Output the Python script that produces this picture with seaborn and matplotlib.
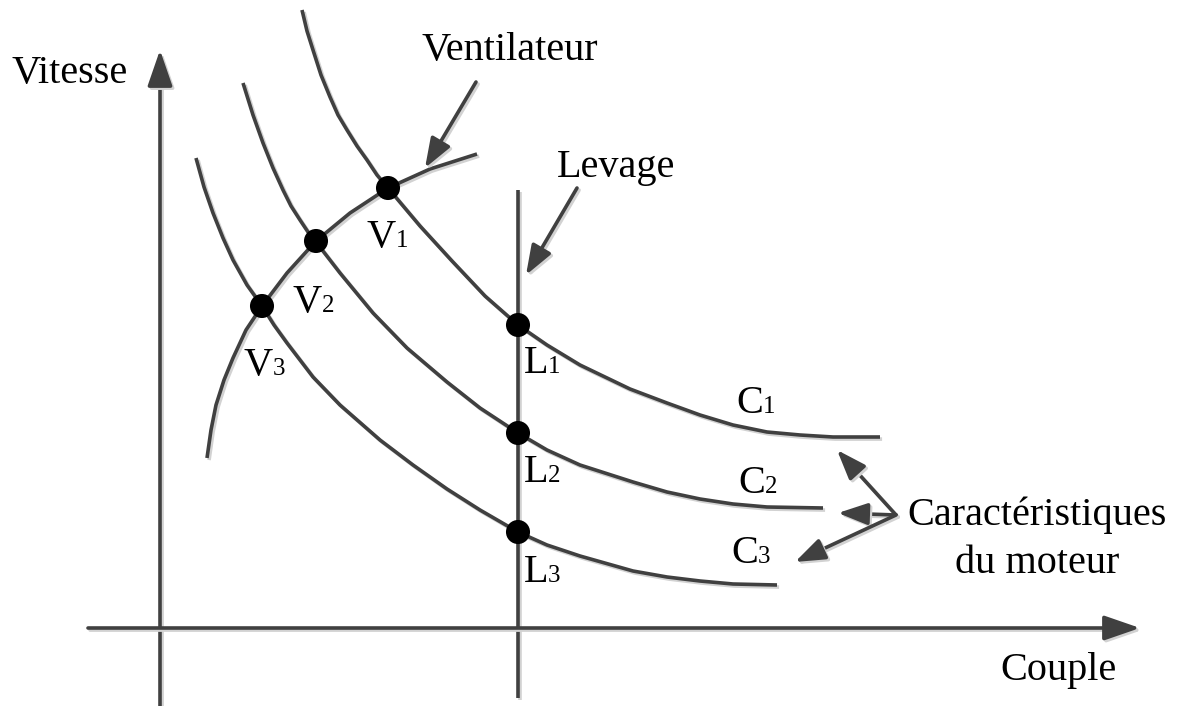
import numpy as np
import pandas as pd
import matplotlib
matplotlib.use("Agg")
import matplotlib.pyplot as plt
import matplotlib.patheffects as pe
import seaborn as sns

# motor characteristic curves (pixel-like coordinates of the schematic, y down)
c1_x = [302, 307, 313, 321, 330, 338, 347, 357, 367, 377, 388, 420, 452, 485, 518,
        547, 580, 630, 667, 700, 733, 767, 800, 833, 880]
c1_y = [10, 31, 50, 75, 97, 115, 130, 146, 160, 175, 188, 226, 261, 296, 325,
        345, 365, 389, 403, 415, 425, 432, 435, 437, 437]
c2_x = [243, 253, 263, 273, 283, 291, 300, 308, 316, 340, 373, 407, 447, 480, 518,
        547, 580, 633, 667, 700, 733, 767, 823]
c2_y = [83, 115, 143, 168, 190, 206, 220, 232, 242, 273, 313, 348, 382, 408, 433,
        450, 465, 482, 492, 499, 504, 507, 508]
c3_x = [196, 204, 213, 223, 233, 247, 262, 274, 287, 313, 340, 380, 413, 447, 480, 518,
        547, 580, 633, 667, 700, 733, 777]
c3_y = [158, 187, 213, 238, 260, 285, 306, 325, 343, 377, 405, 440, 465, 489, 510, 532,
        545, 556, 571, 577, 581, 584, 585]

# fan load curve
fan_x = [207, 211, 216, 224, 233, 246, 262, 287, 316, 350, 388, 430, 477]
fan_y = [458, 430, 405, 380, 358, 330, 306, 273, 241, 213, 188, 169, 154]

# hoist load line (constant torque)
lev_x = [518, 518]
lev_y = [190, 698]

# operating points
pt_names = ["V1", "V2", "V3", "L1", "L2", "L3"]
pt_x = [388, 316, 262, 518, 518, 518]
pt_y = [188, 241, 306, 325, 433, 532]

# point labels: letter | subscript boundary and baseline
lab_letter = ["V", "V", "V", "L", "L", "L", "C", "C", "C"]
lab_digit = ["1", "2", "3", "1", "2", "3", "1", "2", "3"]
lab_x = [396, 322, 273, 548, 548, 548, 763, 765, 758]
lab_y = [247, 312, 375, 373, 482, 582, 413, 493, 563]

LINE = "#404040"
SHADOW = "#d2d2d2"
FONT = "Liberation Serif"

sns.set_theme(style="white")
plt.rcParams["font.family"] = [FONT, "DejaVu Serif"]
plt.rcParams["text.color"] = "black"

fig = plt.figure(figsize=(11.78, 7.06), dpi=100)
ax = fig.add_axes([0, 0, 1, 1])

shadow = [pe.SimpleLineShadow(offset=(1.5, -1.5), shadow_color=SHADOW, alpha=1.0), pe.Normal()]

curves = pd.concat([
    pd.DataFrame({"x": c1_x, "y": c1_y, "curve": "C1"}),
    pd.DataFrame({"x": c2_x, "y": c2_y, "curve": "C2"}),
    pd.DataFrame({"x": c3_x, "y": c3_y, "curve": "C3"}),
    pd.DataFrame({"x": fan_x, "y": fan_y, "curve": "fan"}),
    pd.DataFrame({"x": lev_x, "y": lev_y, "curve": "lev"}),
])
sns.lineplot(data=curves, x="x", y="y", units="curve", estimator=None, sort=False,
             color=LINE, lw=2.6, ax=ax, legend=False)
for ln in ax.lines:
    ln.set_path_effects(shadow)
    ln.set_solid_capstyle("butt")
    ln.set_solid_joinstyle("round")

# axes with arrows
big = dict(arrowstyle="-|>,head_length=0.55,head_width=0.19", mutation_scale=40,
           color=LINE, lw=2.6, shrinkA=0, shrinkB=0, path_effects=shadow)
ax.annotate("", xy=(160, 50), xytext=(160, 706), arrowprops=big)
ax.annotate("", xy=(1140, 628), xytext=(88, 628), arrowprops=big)

small = dict(arrowstyle="-|>,head_length=0.6,head_width=0.22", mutation_scale=30,
             color=LINE, lw=2.6, shrinkA=0, shrinkB=0, path_effects=shadow)
ax.annotate("", xy=(425, 168), xytext=(476, 82), arrowprops=small)
ax.annotate("", xy=(526, 275), xytext=(577, 188), arrowprops=small)
for tip in [(837, 450), (838, 513), (795, 562)]:
    ax.annotate("", xy=tip, xytext=(896, 515), arrowprops=small)

pts = pd.DataFrame({"x": pt_x, "y": pt_y, "name": pt_names})
sns.scatterplot(data=pts, x="x", y="y", s=300, color="black", edgecolor="none",
                ax=ax, legend=False, zorder=5)
ax.set_xlim(0, 1178)
ax.set_ylim(706, 0)
ax.axis("off")

fs = 29
ax.text(12, 83, "Vitesse", fontsize=fs, ha="left", va="baseline")
ax.text(1000, 680, "Couple", fontsize=fs, ha="left", va="baseline")
ax.text(422, 60, "Ventilateur", fontsize=fs, ha="left", va="baseline")
ax.text(557, 177, "Levage", fontsize=fs, ha="left", va="baseline")
ax.text(1037, 525, "Caractéristiques", fontsize=fs, ha="center", va="baseline")
ax.text(1037, 573, "du moteur", fontsize=fs, ha="center", va="baseline")

for l, d, x, y in zip(lab_letter, lab_digit, lab_x, lab_y):
    ax.text(x, y, l, fontsize=fs, ha="right", va="baseline")
    ax.text(x, y, d, fontsize=18, ha="left", va="baseline")

fig.savefig("out.png", dpi=100)
